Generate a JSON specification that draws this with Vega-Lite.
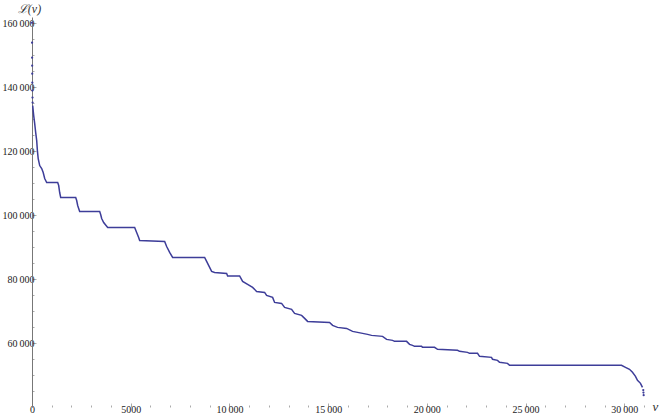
{
  "$schema": "https://vega.github.io/schema/vega-lite/v6.json",
  "width": 616,
  "height": 390,
  "autosize": "none",
  "padding": {"left": 32, "top": 17, "right": 16, "bottom": 12},
  "background": "white",
  "config": {"view": {"stroke": null}, "axis": {"grid": false, "labelFont": "Liberation Serif", "titleFont": "Liberation Serif"}},
  "datasets": {
    "curve": [
      {"v":35,"L":134281},{"v":86,"L":131156},{"v":137,"L":128656},{"v":187,"L":125844},{"v":238,"L":123344},{"v":273,"L":120219},{"v":314,"L":117719},{"v":390,"L":115531},{"v":491,"L":114594},{"v":567,"L":113344},{"v":643,"L":111469},{"v":744,"L":110219},{"v":1301,"L":110219},{"v":1352,"L":109281},{"v":1402,"L":107094},{"v":1453,"L":105531},{"v":2213,"L":105531},{"v":2263,"L":104594},{"v":2314,"L":103031},{"v":2415,"L":101156},{"v":3428,"L":101156},{"v":3478,"L":100219},{"v":3529,"L":98969},{"v":3630,"L":97719},{"v":3833,"L":96156},{"v":5200,"L":96156},{"v":5301,"L":94594},{"v":5402,"L":93031},{"v":5453,"L":92094},{"v":6719,"L":91781},{"v":6820,"L":90219},{"v":6972,"L":88344},{"v":7124,"L":86781},{"v":8744,"L":86781},{"v":8845,"L":85531},{"v":8946,"L":84281},{"v":9098,"L":82406},{"v":9250,"L":82094},{"v":9858,"L":81781},{"v":9908,"L":81000},{"v":10516,"L":81000},{"v":10668,"L":79281},{"v":10921,"L":78344},{"v":11174,"L":77406},{"v":11377,"L":76156},{"v":11782,"L":75844},{"v":11883,"L":74906},{"v":12187,"L":74281},{"v":12288,"L":72719},{"v":12642,"L":72406},{"v":12794,"L":71156},{"v":13148,"L":70531},{"v":13300,"L":69281},{"v":13655,"L":68656},{"v":13807,"L":67719},{"v":13959,"L":66781},{"v":15073,"L":66469},{"v":15225,"L":65531},{"v":15478,"L":64906},{"v":15934,"L":64594},{"v":16237,"L":63656},{"v":16744,"L":63031},{"v":16997,"L":62719},{"v":17199,"L":62406},{"v":17756,"L":62094},{"v":17959,"L":61156},{"v":18263,"L":60844},{"v":18364,"L":60531},{"v":18972,"L":60531},{"v":19123,"L":59594},{"v":19275,"L":59281},{"v":19377,"L":58969},{"v":19731,"L":58969},{"v":19782,"L":58656},{"v":20389,"L":58656},{"v":20541,"L":58031},{"v":21554,"L":57719},{"v":21655,"L":57406},{"v":22060,"L":57094},{"v":22161,"L":56781},{"v":22566,"L":56781},{"v":22668,"L":55844},{"v":23275,"L":55531},{"v":23326,"L":54906},{"v":23579,"L":54594},{"v":23680,"L":53969},{"v":24085,"L":53656},{"v":24187,"L":53031},{"v":29857,"L":53031},{"v":30060,"L":52406},{"v":30262,"L":51781},{"v":30414,"L":50844},{"v":30566,"L":49594},{"v":30667,"L":48344},{"v":30819,"L":47406},{"v":30920,"L":46156}
    ],
    "sparse": [
      {"v":0,"L":160200},{"v":3,"L":153970},{"v":6,"L":149280},{"v":9,"L":146780},{"v":12,"L":144280},{"v":16,"L":141470},{"v":20,"L":138970},{"v":25,"L":136780},{"v":30,"L":135220},
      {"v":30960,"L":45300},{"v":30970,"L":44500},{"v":30980,"L":43700}
    ]
  },
  "encoding": {
    "x": {
      "field": "v", "type": "quantitative",
      "scale": {"domain": [0, 31200], "nice": false, "zero": false},
      "axis": {
        "title": "v", "titleFontStyle": "italic", "titleFontWeight": "normal", "titleFontSize": 13, "titleColor": "#333",
        "titleX": 623, "titleY": -1, "titleAlign": "center", "titleBaseline": "middle",
        "domain": false,
        "values": [0,1000,2000,3000,4000,5000,6000,7000,8000,9000,10000,11000,12000,13000,14000,15000,16000,17000,18000,19000,20000,21000,22000,23000,24000,25000,26000,27000,28000,29000,30000,31000],
        "tickSize": {"condition": {"test": "datum.value % 5000 === 0", "value": -4}, "value": -2},
        "tickColor": "#aaaaaa", "tickWidth": 1,
        "labelExpr": "datum.value % 5000 === 0 ? (datum.value >= 10000 ? replace(format(datum.value, ','), ',', '\u2009') : format(datum.value, 'd')) : ''",
        "labelFontSize": 10, "labelColor": "#222222", "labelPadding": 1, "labelFlush": false, "labelOverlap": false
      }
    },
    "y": {
      "field": "L", "type": "quantitative",
      "scale": {"domain": [40000, 162000], "nice": false, "zero": false},
      "axis": {
        "title": "\u2112(v)", "titleFontStyle": "italic", "titleFontWeight": "normal", "titleFontSize": 12, "titleColor": "#333",
        "titleAngle": 0, "titleX": -3, "titleY": -9, "titleAlign": "center", "titleBaseline": "middle",
        "domain": true, "domainColor": "#777777", "domainWidth": 1,
        "values": [45000,50000,55000,60000,65000,70000,75000,80000,85000,90000,95000,100000,105000,110000,115000,120000,125000,130000,135000,140000,145000,150000,155000,160000],
        "tickSize": {"condition": {"test": "datum.value % 20000 === 0", "value": -4}, "value": -2},
        "tickColor": "#aaaaaa", "tickWidth": 1,
        "labelExpr": "datum.value % 20000 === 0 ? replace(format(datum.value, ','), ',', '\u2009') : ''",
        "labelFontSize": 10, "labelColor": "#222222", "labelPadding": 2, "labelOverlap": false
      }
    }
  },
  "layer": [
    {"data": {"name": "curve"}, "mark": {"type": "line", "color": "#3d3d99", "strokeWidth": 1.5}},
    {"data": {"name": "sparse"}, "mark": {"type": "circle", "color": "#3d3d99", "size": 5, "opacity": 1}}
  ]
}
